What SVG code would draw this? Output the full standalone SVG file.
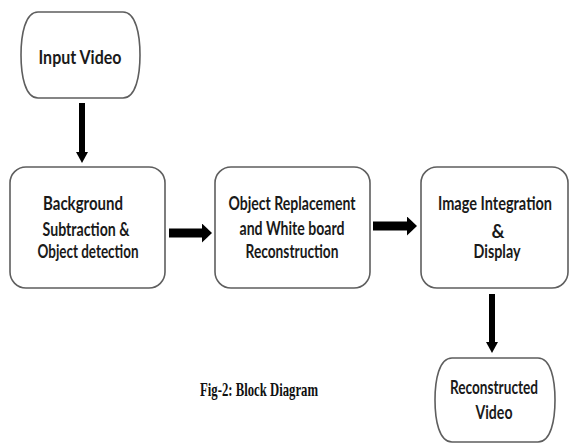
<svg xmlns="http://www.w3.org/2000/svg" width="570" height="443" viewBox="0 0 570 443">
  <style>
    .shape { fill: #ffffff; stroke: #5e5e5e; stroke-width: 1.6; }
    .label { font-family: Lato, "Open Sans", "Liberation Sans", sans-serif; font-weight: bold; font-size: 18px; fill: #1a1a1a; text-anchor: middle; }
    .caption { font-family: "Liberation Serif", "DejaVu Serif", serif; font-weight: bold; font-size: 19px; fill: #111111; }
    .flow-h { stroke: #000000; stroke-width: 9; fill: none; }
    .flow-v { stroke: #000000; stroke-width: 6; fill: none; }
  </style>
  <defs>
    <marker id="head-h" markerUnits="userSpaceOnUse" markerWidth="12" markerHeight="20" refX="0" refY="9.5" orient="auto">
      <path d="M0,0 L10,9.5 L0,19 Z" fill="#000000"/>
    </marker>
    <marker id="head-v" markerUnits="userSpaceOnUse" markerWidth="12" markerHeight="14" refX="0" refY="6" orient="auto">
      <path d="M0,0 L11,6 L0,12 Z" fill="#000000"/>
    </marker>
  </defs>

  <rect width="570" height="443" fill="#ffffff"/>

  <!-- connectors -->
  <g id="connectors">
    <line class="flow-v" x1="82" y1="103" x2="82" y2="152" marker-end="url(#head-v)"/>
    <line class="flow-h" x1="169" y1="233" x2="202" y2="233" marker-end="url(#head-h)"/>
    <line class="flow-h" x1="373" y1="226" x2="407" y2="226" marker-end="url(#head-h)"/>
    <line class="flow-v" x1="492" y1="294" x2="492" y2="342" marker-end="url(#head-v)"/>
  </g>

  <g id="input-video">
    <path class="shape" d="M38,12 L123,12 C136,12 140,35 140,55 C140,75 136,98 123,98 L38,98 C25,98 21,75 21,55 C21,35 25,12 38,12 Z"/>
    <text class="label" x="80" y="64" font-size="20" textLength="83" lengthAdjust="spacingAndGlyphs">Input Video</text>
  </g>

  <g id="background-subtraction">
    <rect class="shape" x="10" y="167" width="155" height="121" rx="16"/>
    <text class="label" x="83" y="210" textLength="80" lengthAdjust="spacingAndGlyphs">Background</text>
    <text class="label" x="86" y="236" textLength="87" lengthAdjust="spacingAndGlyphs">Subtraction &amp;</text>
    <text class="label" x="88" y="258" textLength="101" lengthAdjust="spacingAndGlyphs">Object detection</text>
  </g>

  <g id="object-replacement">
    <rect class="shape" x="215" y="167" width="155" height="121" rx="16"/>
    <text class="label" x="292" y="210" textLength="127" lengthAdjust="spacingAndGlyphs">Object Replacement</text>
    <text class="label" x="292" y="235" textLength="105" lengthAdjust="spacingAndGlyphs">and White board</text>
    <text class="label" x="292" y="258" textLength="93" lengthAdjust="spacingAndGlyphs">Reconstruction</text>
  </g>

  <g id="image-integration">
    <rect class="shape" x="421" y="167" width="147" height="121" rx="16"/>
    <text class="label" x="495" y="210" font-size="14.5" textLength="114" lengthAdjust="spacingAndGlyphs">Image Integration</text>
    <text class="label" x="498" y="238">&amp;</text>
    <text class="label" x="497" y="258" textLength="47" lengthAdjust="spacingAndGlyphs">Display</text>
  </g>

  <g id="reconstructed-video">
    <path class="shape" d="M452,358 L538,358 C551,358 555,380 555,400 C555,420 551,442 538,442 L452,442 C439,442 435,420 435,400 C435,380 439,358 452,358 Z"/>
    <text class="label" x="494" y="394" textLength="88" lengthAdjust="spacingAndGlyphs">Reconstructed</text>
    <text class="label" x="494" y="419" textLength="37" lengthAdjust="spacingAndGlyphs">Video</text>
  </g>

  <text class="caption" x="200" y="396" textLength="118" lengthAdjust="spacingAndGlyphs">Fig-2: Block Diagram</text>
</svg>
